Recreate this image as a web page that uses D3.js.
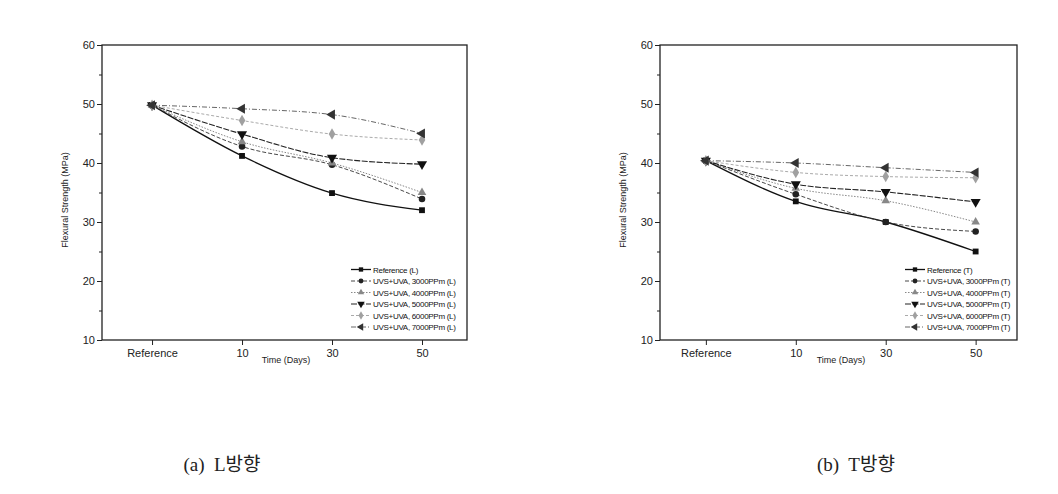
<!DOCTYPE html>
<html><head><meta charset="utf-8">
<script src="https://cdn.jsdelivr.net/npm/d3@7"></script>
<style>body{margin:0;background:#fff}svg{display:block}text{white-space:pre}</style>
</head><body>
<svg id="c" width="1058" height="494"></svg>
<script>
const categories = ["Reference", "10", "30", "50"];
const yTicks = [10, 20, 30, 40, 50, 60];
const seriesNames = ["Reference", "UVS+UVA, 3000PPm", "UVS+UVA, 4000PPm", "UVS+UVA, 5000PPm", "UVS+UVA, 6000PPm", "UVS+UVA, 7000PPm"];
// Panel (a) L direction
const refL   = [49.8, 41.2, 34.9, 32.0];
const p3000L = [49.8, 42.8, 39.7, 33.9];
const p4000L = [49.8, 43.6, 40.0, 35.0];
const p5000L = [49.8, 44.9, 40.9, 39.8];
const p6000L = [49.8, 47.2, 44.9, 43.9];
const p7000L = [49.8, 49.2, 48.2, 45.0];
// Panel (b) T direction
const refT   = [40.4, 33.5, 30.0, 25.0];
const p3000T = [40.4, 34.7, 30.0, 28.4];
const p4000T = [40.4, 35.7, 33.6, 30.0];
const p5000T = [40.4, 36.4, 35.1, 33.4];
const p6000T = [40.4, 38.4, 37.7, 37.5];
const p7000T = [40.4, 40.0, 39.2, 38.4];

const styles = [
  {color:"#111", fill:"#111", dash:null, w:1.3, sym:d3.symbolSquare, size:34, rot:0},
  {color:"#333", fill:"#222", dash:"4,2", w:0.9, sym:d3.symbolCircle, size:34, rot:0},
  {color:"#888", fill:"#888", dash:"1.5,1.5", w:1, sym:d3.symbolTriangle, size:32, rot:0},
  {color:"#222", fill:"#111", dash:"6,1.5", w:1.1, sym:d3.symbolTriangle, size:44, rot:180},
  {color:"#aaa", fill:"#a0a0a0", dash:"3,2", w:1, sym:d3.symbolDiamond, size:38, rot:0},
  {color:"#555", fill:"#333", dash:"5,2,1,2", w:0.9, sym:d3.symbolTriangle, size:44, rot:-90}
];

const svg = d3.select("#c");
const font = "'Liberation Sans', Arial, sans-serif";

function panel(cfg){
  const g = svg.append("g");
  const x = d3.scaleLinear().domain(cfg.xdom).range([cfg.left, cfg.right]);
  const y = d3.scaleLinear().domain([10, 60]).range([340, 45]);
  g.append("rect").attr("x", cfg.left).attr("y", 45).attr("width", cfg.right-cfg.left).attr("height", 295)
    .attr("fill","none").attr("stroke","#222").attr("stroke-width",1.3);
  const ya = g.append("g").attr("transform",`translate(${cfg.left},0)`)
    .call(d3.axisLeft(y).tickValues(yTicks).tickSize(5).tickPadding(2).tickFormat(d3.format("d")));
  ya.select(".domain").remove();
  ya.selectAll("text").attr("font-family",font).attr("font-size",11).attr("fill","#222");
  ya.selectAll("line").attr("stroke","#222");
  const ym = g.append("g").attr("transform",`translate(${cfg.left},0)`)
    .call(d3.axisLeft(y).tickValues([15,25,35,45,55]).tickSize(3).tickFormat(""));
  ym.select(".domain").remove();
  ym.selectAll("line").attr("stroke","#222");
  const xa = g.append("g").attr("transform","translate(0,340)")
    .call(d3.axisBottom(x).tickValues([0,1,2,3]).tickSize(5).tickPadding(4).tickFormat(i=>categories[i]));
  xa.select(".domain").remove();
  xa.selectAll("text").attr("font-family",font).attr("font-size",11).attr("fill","#222");
  xa.selectAll("line").attr("stroke","#222");
  g.append("text").attr("transform",`translate(${cfg.ylabX},200) rotate(-90)`).attr("text-anchor","middle")
    .attr("font-family",font).attr("font-size",9).attr("fill","#222").text("Flexural Strength (MPa)");
  g.append("text").attr("x", cfg.xlabX).attr("y", 363).attr("text-anchor","middle")
    .attr("font-family",font).attr("font-size",9).attr("fill","#222").text("Time (Days)");
  const line = d3.line().x((d,i)=>x(i)).y(d=>y(d)).curve(d3.curveMonotoneX);
  cfg.data.forEach((arr, k) => {
    const s = styles[k];
    g.append("path").attr("d", line(arr)).attr("fill","none").attr("stroke", s.color)
      .attr("stroke-width", s.w).attr("stroke-dasharray", s.dash);
  });
  cfg.data.forEach((arr, k) => {
    const s = styles[k];
    g.selectAll(null).data(arr).enter().append("path")
      .attr("d", d3.symbol().type(s.sym).size(s.size))
      .attr("transform", (d,i)=>`translate(${x(i)},${y(d)}) rotate(${s.rot})`)
      .attr("fill", s.fill).attr("stroke","none");
  });
  const ly = [269.5, 281, 292.5, 304, 315.5, 327];
  seriesNames.forEach((n,k)=>{
    const s = styles[k];
    const lg = g.append("g").attr("transform",`translate(${cfg.legX},${ly[k]})`);
    lg.append("line").attr("x1",0).attr("x2",20).attr("y1",0).attr("y2",0)
      .attr("stroke",s.color).attr("stroke-width",s.w).attr("stroke-dasharray",s.dash);
    lg.append("path").attr("d", d3.symbol().type(s.sym).size(s.size*0.55))
      .attr("transform",`translate(10,0) rotate(${s.rot})`).attr("fill",s.fill);
    lg.append("text").attr("x",22).attr("y",3).attr("font-family",font).attr("font-size",8)
      .attr("letter-spacing",-0.3).attr("fill","#111").text(`${n} (${cfg.tag})`);
  });
  svg.append("text").attr("x", cfg.capX).attr("y", 471).attr("text-anchor","middle")
    .attr("font-family","'Liberation Serif', 'Noto Sans CJK KR', serif").attr("font-size",19).attr("fill","#222")
    .attr("xml:space","preserve").text(cfg.caption);
}

panel({left:102, right:467, xdom:[-0.556, 3.5], ylabX:68, xlabX:286, legX:351, tag:"L",
  data:[refL,p3000L,p4000L,p5000L,p6000L,p7000L], capX:222, caption:"(a)  L방향"});
panel({left:660, right:1017, xdom:[-0.51, 3.46], ylabX:626, xlabX:841, legX:905, tag:"T",
  data:[refT,p3000T,p4000T,p5000T,p6000T,p7000T], capX:856, caption:"(b)  T방향"});
</script>
</body></html>
